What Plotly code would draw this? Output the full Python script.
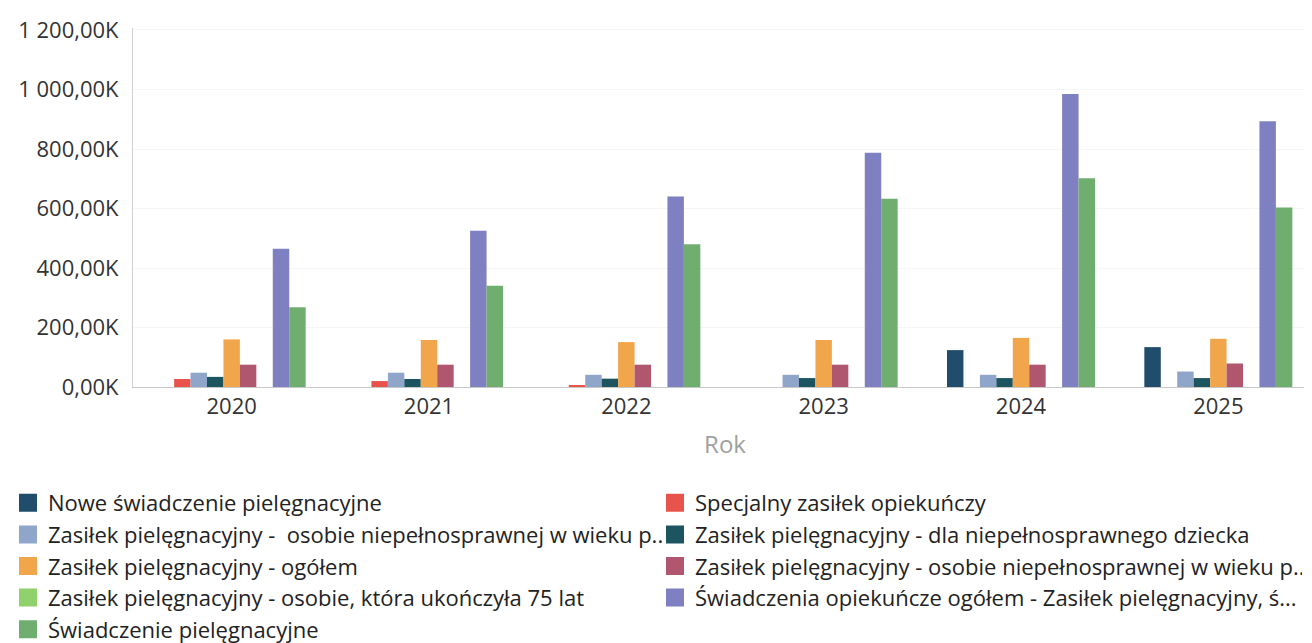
import plotly.graph_objects as go

years = ["2020", "2021", "2022", "2023", "2024", "2025"]

series_names = [
    "Nowe świadczenie pielęgnacyjne",
    "Specjalny zasiłek opiekuńczy",
    "Zasiłek pielęgnacyjny -  osobie niepełnosprawnej w wieku p..",
    "Zasiłek pielęgnacyjny - dla niepełnosprawnego dziecka",
    "Zasiłek pielęgnacyjny - ogółem",
    "Zasiłek pielęgnacyjny - osobie niepełnosprawnej w wieku p...",
    "Zasiłek pielęgnacyjny - osobie, która ukończyła 75 lat",
    "Świadczenia opiekuńcze ogółem - Zasiłek pielęgnacyjny, ś...",
    "Świadczenie pielęgnacyjne",
]

nowe = [None, None, None, None, 124000, 134000]
specjalny = [27000, 20000, 5000, None, None, None]
zas_wiek_a = [48000, 48000, 41000, 41000, 41000, 52000]
zas_dziecko = [34000, 27000, 28000, 30000, 30000, 30000]
zas_ogolem = [160000, 158000, 151000, 158000, 165000, 162000]
zas_wiek_b = [75000, 75000, 75000, 75000, 75000, 79000]
zas_75 = [None, None, None, None, None, None]
swiadczenia_ogolem = [465000, 525000, 640000, 787000, 985000, 893000]
swiadczenie_piel = [268000, 340000, 480000, 633000, 702000, 603000]

series_values = [nowe, specjalny, zas_wiek_a, zas_dziecko, zas_ogolem,
                 zas_wiek_b, zas_75, swiadczenia_ogolem, swiadczenie_piel]
colors = ["#1f4d6b", "#e8544c", "#8fa5c9", "#1c5560", "#f2a64b",
          "#b0576f", "#8fd16a", "#7f80c2", "#6fae6f"]

tick_vals = [0, 200000, 400000, 600000, 800000, 1000000, 1200000]
tick_text = ["0,00K", "200,00K", "400,00K", "600,00K", "800,00K", "1 000,00K", "1 200,00K"]

fig = go.Figure()
for name, vals, col in zip(series_names, series_values, colors):
    fig.add_trace(go.Bar(x=years, y=vals, name=name, legendgroup=name, showlegend=False,
                         marker=dict(color=col, line=dict(width=0))))
# legend entries with larger square swatches
for name, col in zip(series_names, colors):
    fig.add_trace(go.Scatter(x=[None], y=[None], mode="markers", name=name, legendgroup=name,
                             marker=dict(symbol="square", size=16, color=col,
                                         line=dict(width=2, color=col)),
                             showlegend=True))

font_family = "Open Sans, Noto Sans, sans-serif"
L, R, T, B = 125, 3, 20, 264
plot_w = 1312 - L - R
plot_h = 643 - T - B
fig.update_layout(
    width=1312, height=643,
    barmode="group", bargap=0.25, bargroupgap=0,
    plot_bgcolor="white", paper_bgcolor="white",
    margin=dict(l=L, r=R, t=T, b=B, autoexpand=False),
    font=dict(family=font_family, size=22, color="#333333"),
    xaxis=dict(
        title=dict(text="Rok", font=dict(size=24, color="#a0a0a0"), standoff=16),
        showline=True, linecolor="#c8c8c8", linewidth=1,
        tickfont=dict(size=22, color="#333333"), ticks="",
    ),
    yaxis=dict(
        range=[0, 1206700], tickvals=tick_vals, ticktext=tick_text,
        showline=True, linecolor="#d0d0d0", linewidth=1,
        showgrid=True, gridcolor="#f5f5f5", zeroline=False,
        tickfont=dict(size=22, color="#333333"), ticks="", ticklabelstandoff=9,
    ),
    legend=dict(
        orientation="h", x=-L / plot_w, xanchor="left",
        y=-(474 - (T + plot_h)) / plot_h, yanchor="top",
        entrywidth=602, entrywidthmode="pixels",
        font=dict(size=22, color="#222222"),
        tracegroupgap=0, itemsizing="trace",
    ),
    showlegend=True,
)
fig.write_html("out.html")
